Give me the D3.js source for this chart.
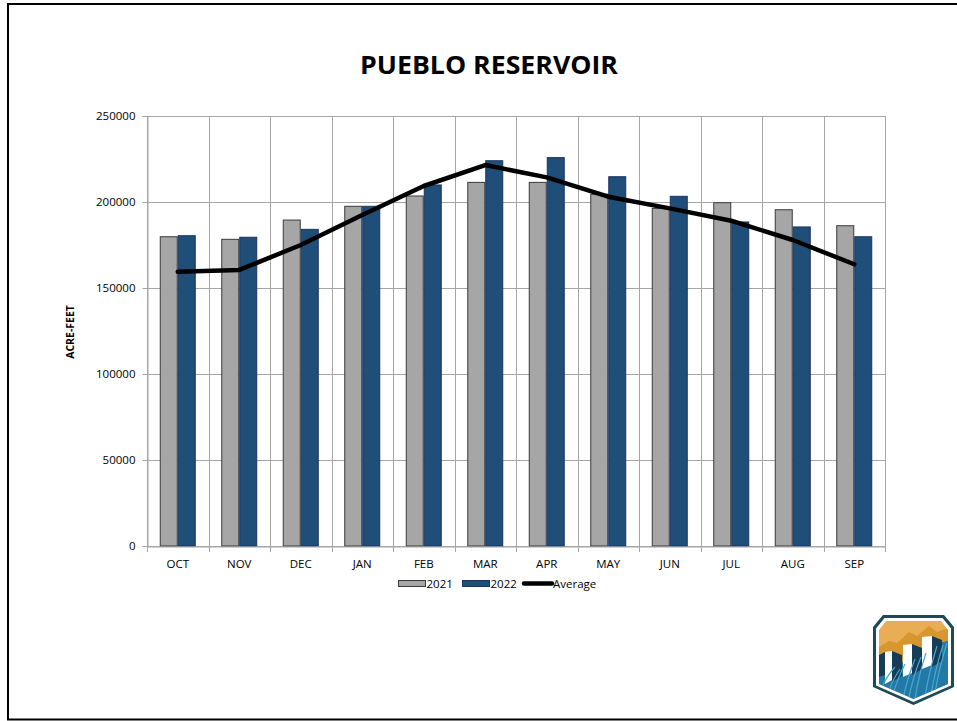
<!DOCTYPE html>
<html>
<head>
<meta charset="utf-8">
<script src="https://cdn.jsdelivr.net/npm/d3@7"></script>
<style>
  html, body { margin: 0; padding: 0; background: #fff; }
  svg { display: block; }
  text { font-family: "Open Sans", "Liberation Sans", sans-serif; }
</style>
</head>
<body>
<svg id="chart" width="957" height="721"></svg>
<script>
const months = ["OCT","NOV","DEC","JAN","FEB","MAR","APR","MAY","JUN","JUL","AUG","SEP"];
const series2021 = [179800,178300,189500,197500,203500,211400,211400,204500,196300,199600,195500,186200];
const series2022 = [180400,179500,184100,197500,209900,224000,225800,214700,203300,188400,185500,179800];
const average   = [159500,160500,175000,192400,209300,221500,214300,203100,196300,189100,177900,163800];
const yTicks = [0,50000,100000,150000,200000,250000];
const seriesNames = ["2021","2022","Average"];

const svg = d3.select("#chart");
const W = 957, H = 721;
const plot = {left: 147, right: 885, top: 116, bottom: 546};

// frame
svg.append("path")
  .attr("d", `M${W + 5},4 L8,4 L8,719.5 L${W + 5},719.5`)
  .attr("fill", "none").attr("stroke", "#000").attr("stroke-width", 2);

// title
svg.append("text")
  .attr("x", 489).attr("y", 74)
  .attr("text-anchor", "middle")
  .attr("font-size", 25).attr("font-weight", "bold").attr("fill", "#000")
  .attr("textLength", 258).attr("lengthAdjust", "spacingAndGlyphs")
  .text("PUEBLO RESERVOIR");

const x = d3.scaleBand().domain(months).range([plot.left, plot.right]).paddingInner(0).paddingOuter(0);
const y = d3.scaleLinear().domain([0, 250000]).range([plot.bottom, plot.top]);
const groupW = 36;
const xs = d3.scaleBand().domain(["2021","2022"]).range([0, groupW]);

const g = svg.append("g");

// horizontal grid
g.append("g").selectAll("line").data(yTicks).join("line")
  .attr("x1", plot.left).attr("x2", plot.right)
  .attr("y1", d => Math.round(y(d)) + 0.5).attr("y2", d => Math.round(y(d)) + 0.5)
  .attr("stroke", "#a6a6a6").attr("stroke-width", 1);

// vertical grid at category boundaries
const bounds = months.map(m => x(m)).concat([plot.right]);
g.append("g").selectAll("line").data(bounds).join("line")
  .attr("x1", d => Math.round(d) + 0.5).attr("x2", d => Math.round(d) + 0.5)
  .attr("y1", plot.top).attr("y2", plot.bottom)
  .attr("stroke", "#a6a6a6").attr("stroke-width", 1);

// y axis
const yAxis = d3.axisLeft(y).tickValues(yTicks).tickSize(5).tickPadding(7).tickFormat(d3.format("d"));
const ya = svg.append("g").attr("transform", `translate(${plot.left + 0.5},0)`).call(yAxis);
ya.select(".domain").attr("stroke", "#a6a6a6");
ya.selectAll(".tick line").attr("stroke", "#a6a6a6");
ya.selectAll(".tick text").attr("font-size", 11.5).attr("fill", "#000")
  .attr("font-family", "'Open Sans', sans-serif");

// bars
const bars = svg.append("g");
months.forEach((m, i) => {
  const gx = x(m) + x.bandwidth() / 2 - groupW / 2;
  const vals = [{k: "2021", v: series2021[i]}, {k: "2022", v: series2022[i]}];
  bars.selectAll(null).data(vals).join("rect")
    .attr("x", d => gx + xs(d.k) + 0.5)
    .attr("y", d => y(d.v))
    .attr("width", xs.bandwidth() - 1)
    .attr("height", d => plot.bottom - y(d.v))
    .attr("fill", d => d.k === "2021" ? "#a6a6a6" : "#1f4e79")
    .attr("stroke", d => d.k === "2021" ? "#3a3a3a" : "#1b3560")
    .attr("stroke-width", 1);
});

// x axis
const xAxis = d3.axisBottom(x).tickSize(0).tickPadding(13);
const xa = svg.append("g").attr("transform", `translate(0,${plot.bottom + 0.5})`).call(xAxis);
xa.select(".domain").attr("stroke", "#a6a6a6");
xa.selectAll(".tick text").attr("font-size", 11.5).attr("fill", "#000");
svg.append("g").selectAll("line").data(bounds).join("line")
  .attr("x1", d => Math.round(d) + 0.5).attr("x2", d => Math.round(d) + 0.5)
  .attr("y1", plot.bottom).attr("y2", plot.bottom + 6)
  .attr("stroke", "#a6a6a6");

// average line
const line = d3.line().x((d, i) => x(months[i]) + x.bandwidth() / 2).y(d => y(d));
svg.append("path").datum(average)
  .attr("d", line).attr("fill", "none")
  .attr("stroke", "#000").attr("stroke-width", 4.5)
  .attr("stroke-linejoin", "round").attr("stroke-linecap", "round");

// y-axis title
svg.append("text")
  .attr("transform", "translate(74,332) rotate(-90)")
  .attr("text-anchor", "middle")
  .attr("font-size", 10.5).attr("font-weight", "bold").attr("fill", "#000")
  .text("ACRE-FEET");

// legend
const leg = svg.append("g");
const legItems = [
  {name: seriesNames[0], type: "rect", fill: "#a6a6a6", stroke: "#3a3a3a", x: 398.5},
  {name: seriesNames[1], type: "rect", fill: "#1f4e79", stroke: "#1b3560", x: 462.5},
  {name: seriesNames[2], type: "line", x: 524}
];
legItems.forEach(it => {
  if (it.type === "rect") {
    leg.append("rect").attr("x", it.x).attr("y", 580.5).attr("width", 27).attr("height", 6)
      .attr("fill", it.fill).attr("stroke", it.stroke);
    leg.append("text").attr("x", it.x + 28).attr("y", 587.5)
      .attr("font-size", 11.5).attr("fill", "#000").text(it.name);
  } else {
    leg.append("line").attr("x1", it.x).attr("x2", it.x + 28).attr("y1", 583.5).attr("y2", 583.5)
      .attr("stroke", "#000").attr("stroke-width", 4.5).attr("stroke-linecap", "round");
    leg.append("text").attr("x", it.x + 29).attr("y", 587.5)
      .attr("font-size", 11.5).attr("fill", "#000").text(it.name);
  }
});

// logo (shield)
const logo = svg.append("g").attr("transform", "translate(873,615)");
const defs = svg.append("defs");
defs.append("clipPath").attr("id", "shieldClip").append("path")
  .attr("d", "M13,6 L68,6 L75,15 L75,69 L40.5,84 L6,69 L6,15 Z");
logo.append("path").attr("d", "M10,0 L71,0 L81,12 L81,72 L40.5,90 L0,72 L0,12 Z").attr("fill", "#1c4a55");
logo.append("path").attr("d", "M11.5,3 L69.5,3 L78,13.5 L78,70.5 L40.5,87 L3,70.5 L3,13.5 Z").attr("fill", "#fff");
const inner = logo.append("g").attr("clip-path", "url(#shieldClip)");
inner.append("rect").attr("x", 0).attr("y", 0).attr("width", 81).attr("height", 90).attr("fill", "#e9ad55");
inner.append("path").attr("d", "M6,32 L16,26 L24,28 L36,17 L44,21 L56,11 L64,17 L75,13 L75,60 L6,60 Z").attr("fill", "#d8962f");
// blue water
inner.append("path").attr("d", "M6,58 L12,54 L20,50 L30,47 L39,40 L49,36 L59,29 L75,26 L75,90 L6,90 Z").attr("fill", "#2379a6");
// pillars: navy side faces then white fronts
[[12,19,37],[30,39,30],[49,59,22]].forEach(([a,b,t]) => {
  inner.append("path").attr("d", `M${b},${t - 1} L${b + 10},${t + 3} L${b + 10},${t + 24} L${b},${t + 30} Z`).attr("fill", "#173c58");
  inner.append("path").attr("d", `M${a},${t} L${b},${t - 1} L${b},${t + 28} L${a},${t + 32} Z`).attr("fill", "#fff");
});
inner.append("path").attr("d", "M6,40 L12,37 L12,60 L6,62 Z").attr("fill", "#173c58");
[[10,70,22,52],[20,80,32,49],[30,84,42,44],[42,84,53,38],[52,82,64,31],[62,78,74,28],[16,76,27,54],[36,82,48,42],[58,80,70,30]].forEach(([x1,y1,x2,y2]) => {
  inner.append("path").attr("d", `M${x1},${y1} Q${(x1+x2)/2 - 2},${(y1+y2)/2} ${x2},${y2}`)
    .attr("fill", "none").attr("stroke", "#4aa6cf").attr("stroke-width", 1.2);
});
</script>
</body>
</html>
